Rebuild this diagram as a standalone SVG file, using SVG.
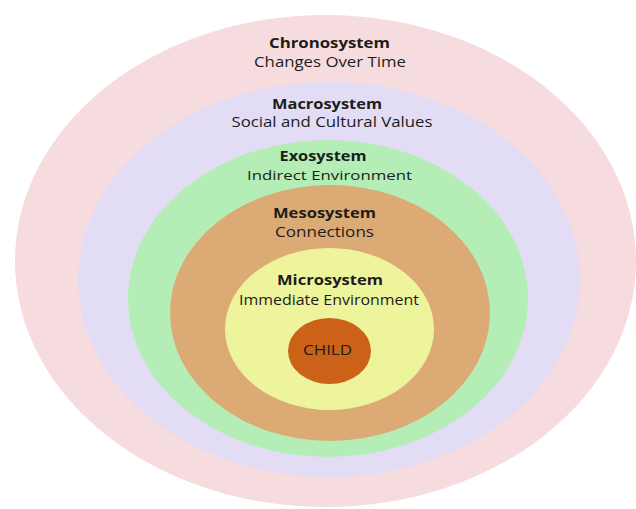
<svg xmlns="http://www.w3.org/2000/svg" width="636" height="509" viewBox="0 0 636 509">
<style>
text{font-family:"Open Sans","Noto Sans","Liberation Sans",sans-serif;fill:#1c1c1c;text-anchor:middle;font-size:14px}
.t{font-weight:700}
</style>
<rect width="636" height="509" fill="#ffffff"/>
<g id="chronosystem">
<ellipse cx="325.5" cy="261" rx="310.5" ry="246" fill="#f6dcde"/>
<text class="t" x="329.5" y="48" textLength="121" lengthAdjust="spacingAndGlyphs">Chronosystem</text>
<text x="330" y="67" textLength="152" lengthAdjust="spacingAndGlyphs">Changes Over Time</text>
</g>
<g id="macrosystem">
<ellipse cx="329" cy="279.5" rx="251" ry="197.5" fill="#e2dcf4"/>
<text class="t" x="327" y="109" textLength="110" lengthAdjust="spacingAndGlyphs">Macrosystem</text>
<text x="332" y="127" textLength="201" lengthAdjust="spacingAndGlyphs">Social and Cultural Values</text>
</g>
<g id="exosystem">
<ellipse cx="328" cy="298.5" rx="200" ry="158.5" fill="#b4eeb6"/>
<text class="t" x="323" y="160.5" textLength="87" lengthAdjust="spacingAndGlyphs" style="font-size:13.5px">Exosystem</text>
<text x="329.5" y="179.5" textLength="165" lengthAdjust="spacingAndGlyphs" style="font-size:13.5px">Indirect Environment</text>
</g>
<g id="mesosystem">
<ellipse cx="330" cy="313" rx="160" ry="128" fill="#dcaa75"/>
<text class="t" x="324.5" y="218" textLength="103" lengthAdjust="spacingAndGlyphs">Mesosystem</text>
<text x="324.5" y="237" textLength="99" lengthAdjust="spacingAndGlyphs">Connections</text>
</g>
<g id="microsystem">
<ellipse cx="329.5" cy="329" rx="104.5" ry="81" fill="#eef49b"/>
<text class="t" x="330" y="285" textLength="106" lengthAdjust="spacingAndGlyphs">Microsystem</text>
<text x="329" y="305" textLength="180" lengthAdjust="spacingAndGlyphs">Immediate Environment</text>
</g>
<g id="child">
<ellipse cx="329.5" cy="351" rx="41.5" ry="33" fill="#cc6118"/>
<text x="327.5" y="355" textLength="49" lengthAdjust="spacingAndGlyphs">CHILD</text>
</g>
<g id="connectors"></g>
</svg>
